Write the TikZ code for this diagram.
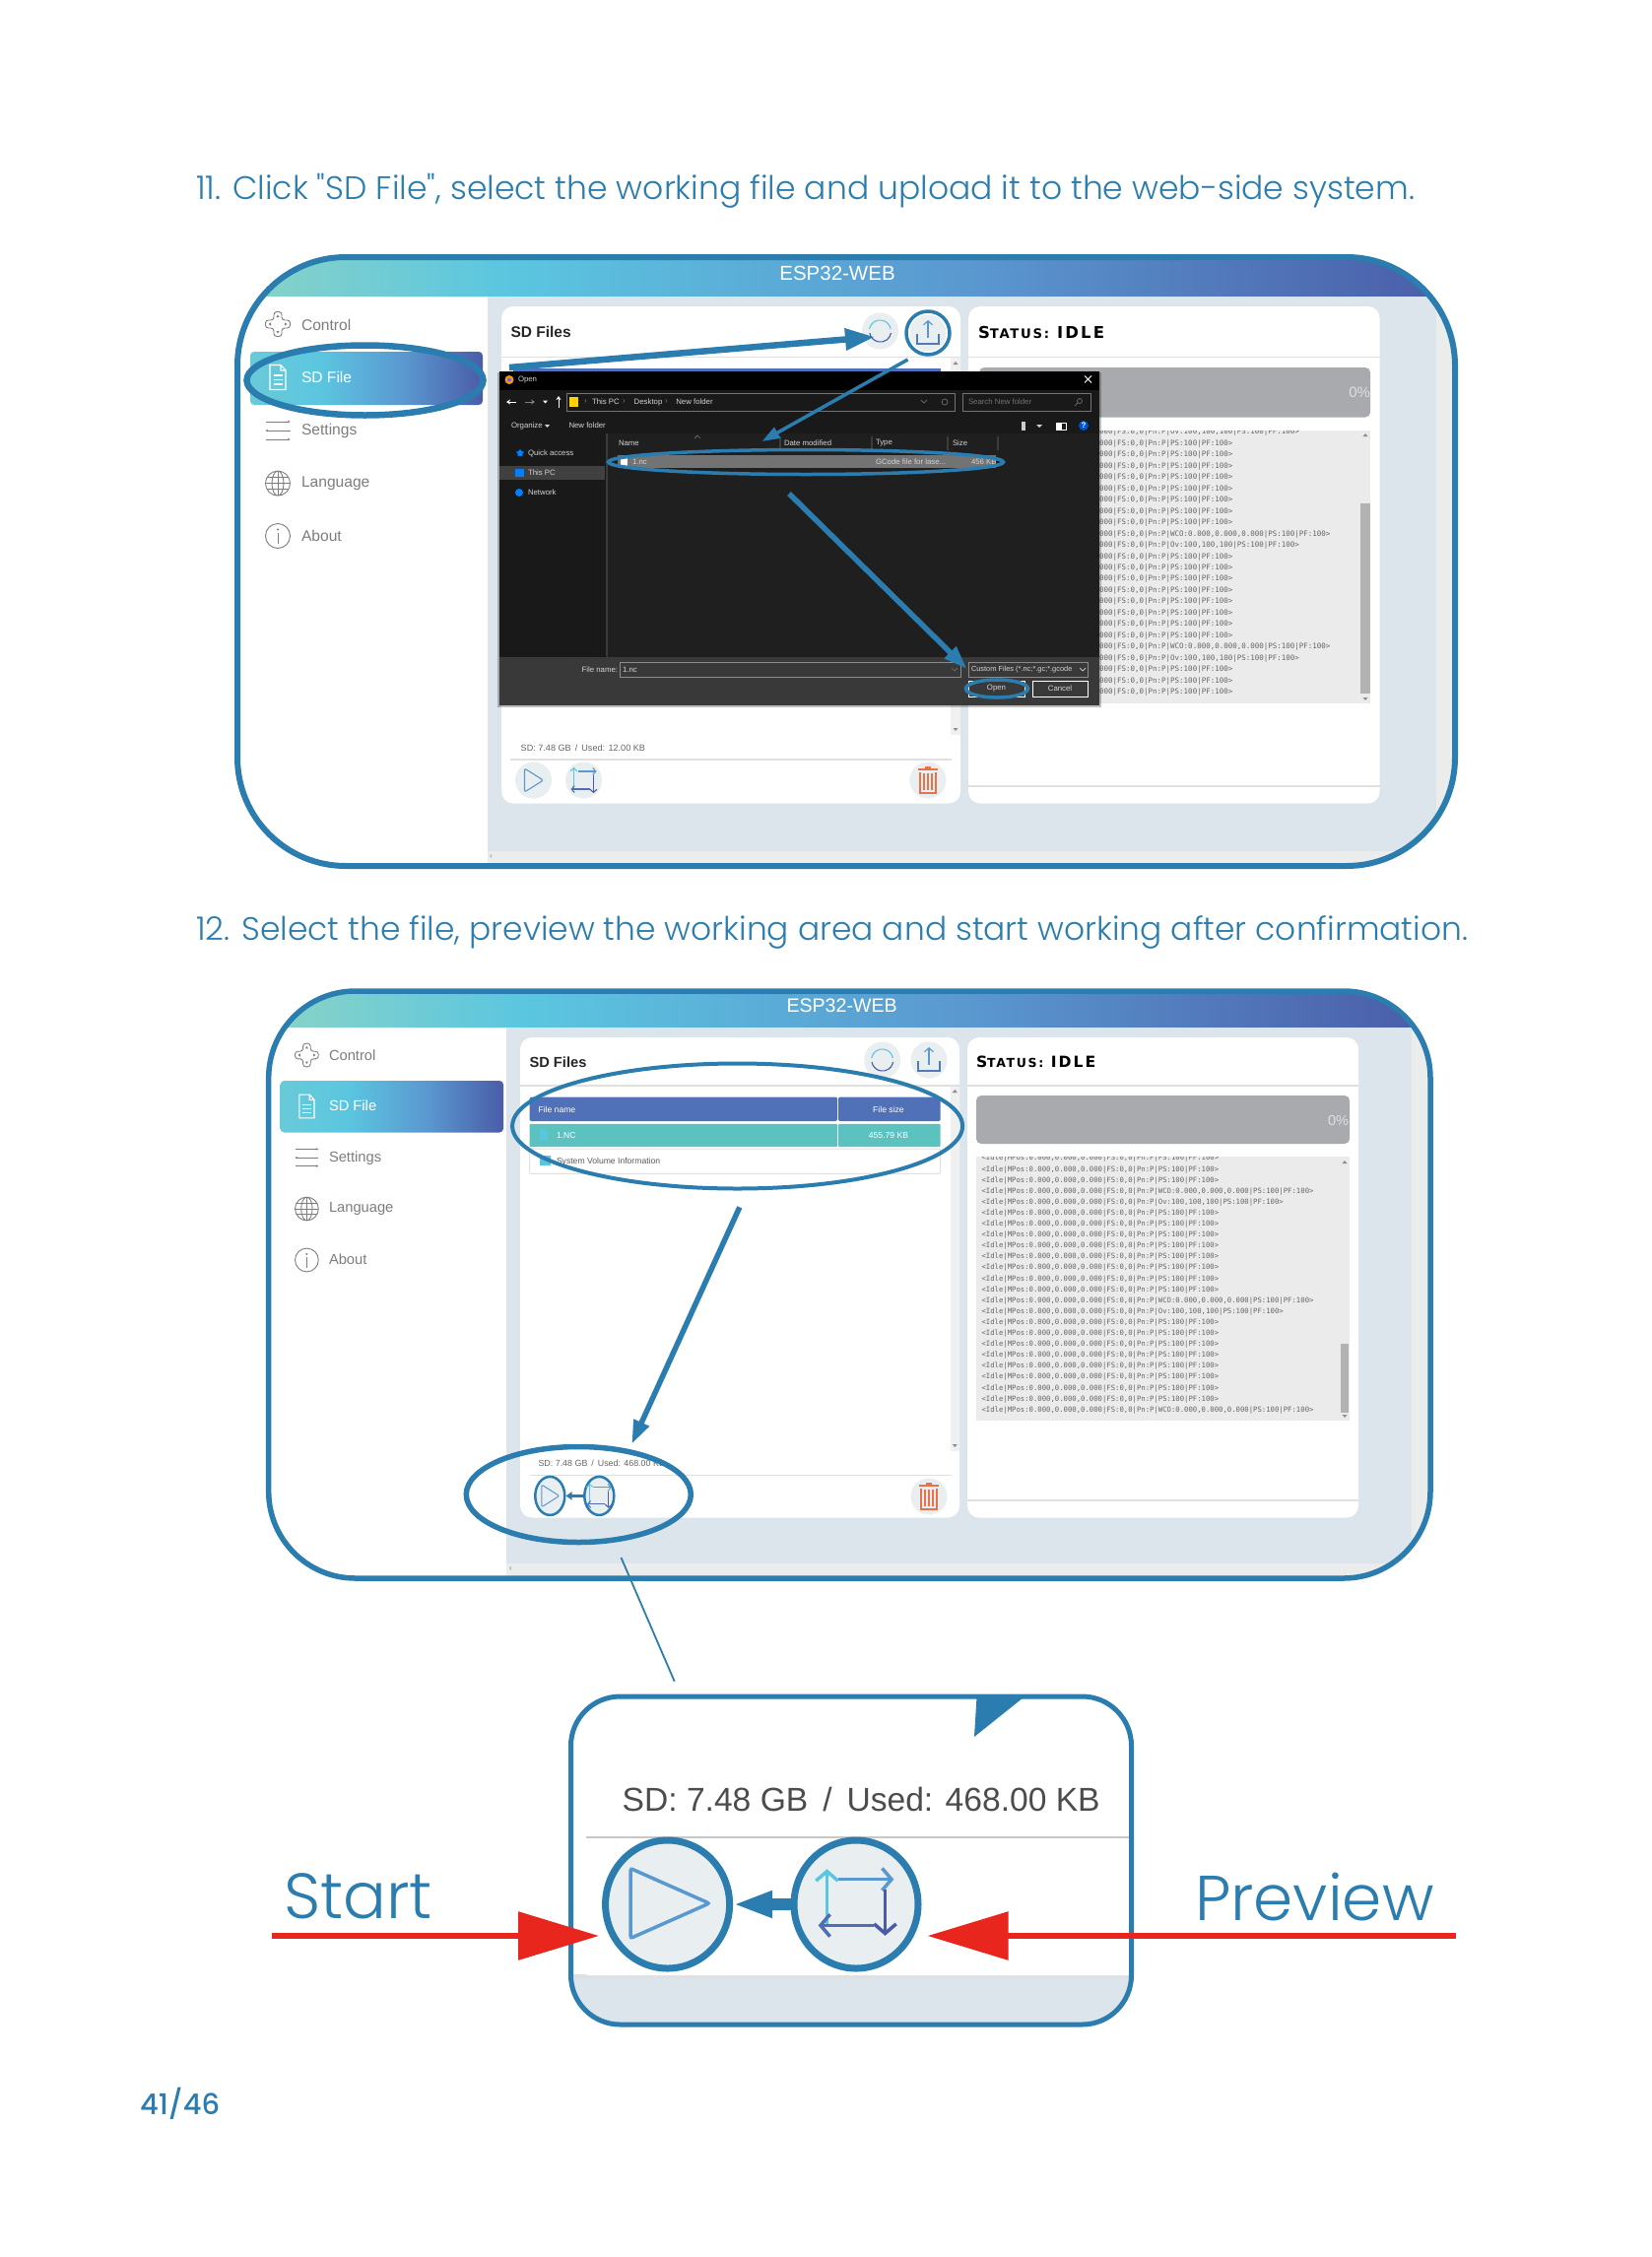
\documentclass[tikz,border=0pt]{standalone}
\usepackage{fontspec}
\setmainfont{Liberation Sans}
\newfontfamily\posterfont{Poppins}[UprightFont=* Light]
\newfontfamily\pagefont{Poppins}[UprightFont=* Medium]
\newfontfamily\logfont{DejaVu Sans Mono}
\newfontfamily\statusfont{DejaVu Sans}[LetterSpace=13]
\usetikzlibrary{positioning,arrows.meta,shapes.geometric}
\definecolor{markblue}{HTML}{2A7DAE}
\definecolor{panelgrey}{HTML}{DCE4EC}
\definecolor{stripgrey}{HTML}{EBECEC}
\definecolor{buttonfill}{HTML}{E9EEF0}
\definecolor{navgrey}{HTML}{7D7D7D}
\definecolor{tablehead}{HTML}{5070B8}
\definecolor{tablerow}{HTML}{5BC2C0}
\definecolor{logfill}{HTML}{EBEBEB}
\definecolor{barfill}{HTML}{A9AAAD}
\definecolor{trashred}{HTML}{E8734A}
\definecolor{arrowred}{HTML}{E8261E}
\definecolor{dlglist}{HTML}{1F1F1F}
\definecolor{dlgside}{HTML}{191919}
\definecolor{dlgfoot}{HTML}{393939}
\definecolor{dlgtxt}{HTML}{D4D4D4}
\definecolor{hdA}{HTML}{8AD3C6}
\definecolor{hdB}{HTML}{5BC6E0}
\definecolor{hdC}{HTML}{5A98D0}
\definecolor{hdD}{HTML}{4A5CA8}
\pgfdeclarehorizontalshading{espbar}{100bp}{color(0bp)=(hdA); color(25bp)=(hdA); color(36bp)=(hdB); color(55bp)=(hdC); color(75bp)=(hdD); color(100bp)=(hdD)}
\pgfdeclarehorizontalshading{navbar}{100bp}{color(0bp)=(hdB!70!hdA); color(25bp)=(hdB!70!hdA); color(40bp)=(hdB); color(58bp)=(hdC); color(75bp)=(hdD); color(100bp)=(hdD)}
\newcommand{\fs}[1]{\fontsize{#1}{#1}\selectfont}
\newcommand{\cropscale}{1}
\newcommand{\lineP}{<Idle|MPos:0.000,0.000,0.000|FS:0,0|Pn:P|PS:100|PF:100>}
\newcommand{\lineW}{<Idle|MPos:0.000,0.000,0.000|FS:0,0|Pn:P|WCO:0.000,0.000,0.000|PS:100|PF:100>}
\newcommand{\lineO}{<Idle|MPos:0.000,0.000,0.000|FS:0,0|Pn:P|Ov:100,100,100|PS:100|PF:100>}
\newcommand{\statustext}[2]{\statusfont\bfseries\fs{#1}S{\fs{#2}TATUS:}~IDLE}
\tikzset{
  ctrlicon/.pic={
    \draw[rounded corners=3pt] (-4,-12.5)--(4,-12.5)--(4,-4)--(12.5,-4)--(12.5,4)--(4,4)--(4,12.5)--(-4,12.5)--(-4,4)--(-12.5,4)--(-12.5,-4)--(-4,-4)--cycle;
    \foreach \a in {0,90,180,270} \fill[rotate=\a] (0,-9.5)--(1.6,-7)--(-1.6,-7)--cycle;
  },
  fileicon/.pic={
    \draw (-8,-12.5)--(3,-12.5)--(8,-7)--(8,12.5)--(-8,12.5)--cycle (3,-12.5)--(3,-7)--(8,-7);
    \draw (-4.5,-2)--(4.5,-2) (-4.5,2.5)--(4.5,2.5) (-4.5,7)--(4.5,7);
  },
  slidericon/.pic={
    \draw[-{Stealth[length=2.5pt,width=2.5pt]}] (-12.5,-9)--(12.5,-9);
    \draw[{Stealth[length=2.5pt,width=2.5pt]}-] (-12.5,0)--(12.5,0);
    \draw[-{Stealth[length=2.5pt,width=2.5pt]}] (-12.5,9)--(12.5,9);
  },
  globeicon/.pic={
    \draw (0,0) circle[radius=12.5pt] (0,0) ellipse[x radius=6pt,y radius=12.5pt];
    \draw (0,-12.5)--(0,12.5) (-12.5,0)--(12.5,0) (-11,-6)--(11,-6) (-11,6)--(11,6);
  },
  infoicon/.pic={
    \draw (0,0) circle[radius=12.5pt];
    \fill (0,-6.5) circle[radius=1.2pt];
    \draw (0,-3)--(0,8);
  },
  refreshicon/.pic={
    \draw[hdB] (-11,-2) arc[start angle=190,end angle=350,x radius=11pt,y radius=-11pt];
    \draw[hdD] (11,2) arc[start angle=10,end angle=170,x radius=11pt,y radius=-11pt];
  },
  uploadicon/.pic={
    \draw[hdD!70!hdB] (-11,1)--(-11,11)--(11,11)--(11,1);
    \draw[hdC,-{Straight Barb[length=4pt,width=9pt]}] (0,5)--(0,-13);
  },
  trashicon/.pic={
    \draw[trashred] (-10,-11)--(10,-11) (-3,-13)--(3,-13);
    \draw[trashred] (-8,-8)--(-8,13)--(8,13)--(8,-8) (-4,-7)--(-4,10) (0,-7)--(0,10) (4,-7)--(4,10);
  },
  playicon/.pic={
    \draw[hdC,rounded corners=2pt] (-9,-12)--(10,0)--(-9,12)--cycle;
  },
  cropicon/.pic={
    \draw[hdB,-{Straight Barb[length=3pt,width=7pt,scale=\cropscale]}] (-10,9)--(-10,-13);
    \draw[hdC,-{Straight Barb[length=3pt,width=7pt,scale=\cropscale]}] (-6,-9)--(13,-9);
    \draw[hdD,-{Straight Barb[length=3pt,width=7pt,scale=\cropscale]}] (10,-5)--(10,13);
    \draw[hdD!70!hdC,-{Straight Barb[length=3pt,width=7pt,scale=\cropscale]}] (6,9)--(-13,9);
  },
}
\begin{document}
\begin{tikzpicture}[x=1pt,y=-1pt,
  navicon/.style = {navgrey, line width=.9pt},
  txt/.style = {inner sep=0pt, outer sep=0pt, anchor=west},
  title/.style = {txt, text=markblue, font=\posterfont\fs{33}},
  navtext/.style = {txt, text=navgrey, font=\fs{15.6}},
  cardhead/.style = {txt, text=black!85, font=\bfseries\fs{15.5}},
  footnote/.style = {txt, text=black!60, font=\fs{9.1}},
  tabletext/.style = {txt, font=\fs{8.6}},
  logline/.style = {txt, text=black!60, font=\logfont\fs{7.48}},
  dlgtext/.style = {txt, text=dlgtxt, font=\fs{7.8}},
  card/.style = {fill=white, rounded corners=12pt},
  btn/.style = {circle, fill=buttonfill, minimum size=37pt, inner sep=0pt},
  ring/.style = {ellipse, draw=markblue, inner sep=0pt, line width=4pt},
  panelframe/.style = {draw=markblue, line width=6pt},
  flow/.style = {draw=markblue, line width=5.5pt, -{Triangle[length=24pt,width=17pt]}},
  redflow/.style = {draw=arrowred, line width=6pt, -{Triangle[length=82pt,width=48pt]}},
  scrolltip/.style = {fill=black!45},
  dlgbtn/.style = {draw=white, line width=.8pt}
  ]
  \useasboundingbox (0,0) rectangle (1677,2291);

  \node[title] (stepA) at (199,194) {11. Click "SD File", select the working file and upload it to the web-side system.};
  \node[title, font=\posterfont\fs{32.9}] (stepB) at (199,946) {12. Select the file, preview the working area and start working after confirmation.};
  \node[txt, text=markblue, font=\pagefont\fs{29}] (pagenum) at (142,2135) {41/46};

  % first panel
  \begin{scope}
    \clip[rounded corners=110pt] (241,261) rectangle (1477,879);
    \fill[panelgrey] (238,258) rectangle (1480,882);
    \fill[white] (238,300) rectangle (494.5,882);
    \fill[stripgrey] (1458,300) rectangle (1480,882);
    \fill[stripgrey] (494.5,864) rectangle (1480,882);
    \shade[shading=espbar] (238,258) rectangle (1480,300);
  \end{scope}
  \node[txt, anchor=center, text=white, font=\fs{20.5}] (espA) at (850,277) {ESP32-WEB};
  \node[txt, text=navgrey, font=\fs{8}] (leftA) at (497,869.5) {‹};

  \pic[navicon] at (282,329) {ctrlicon};
  \shade[shading=navbar, rounded corners=4pt] (254,357) rectangle (490,411);
  \pic[white, line width=1.1pt] at (282,383) {fileicon};
  \pic[navicon] at (282,437) {slidericon};
  \pic[navicon] at (282,490.6) {globeicon};
  \pic[navicon] at (282,544) {infoicon};
  \foreach \lab/\yy in {Control/329.5,Settings/437.5,Language/491,About/544}
    \node[navtext] (nav\lab A) at (306,\yy) {\lab};
  \node[navtext, text=white] (navFileA) at (306,383) {SD File};

  \fill[card] (509,311) rectangle (975,815.5);
  \fill[card] (983,311) rectangle (1400.6,815.5);
  \draw[black!12, line width=1.2pt] (509,362.5) -- (975,362.5) (983,362.5) -- (1400.6,362.5) (983,798) -- (1400.6,798) (518,771) -- (966,771);
  \fill[black!6] (965,363) rectangle (975,746);
  \fill[scrolltip] (970,367) -- (972.5,370) -- (967.5,370) -- cycle (970,742) -- (972.5,739) -- (967.5,739) -- cycle;
  \fill[tablehead] (521,373.5) rectangle (955,380);
  \node[cardhead] (filesA) at (518.5,337) {SD Files};
  \node[btn] (refreshA) at (893.5,336) {};
  \pic[line width=1.1pt] at (893.5,336) {refreshicon};
  \node[btn] (uploadA) at (942,338) {};
  \pic[line width=1.1pt] at (942,338) {uploadicon};
  \node[footnote] (usedA) at (528.7,759) {SD: 7.48 GB\, / \,Used: 12.00 KB};
  \node[btn] (playA) at (541.5,792) {};
  \pic[line width=1.1pt] at (541.5,792) {playicon};
  \node[btn] (cropA) at (592.5,792) {};
  \pic[line width=1.1pt] at (592.5,792) {cropicon};
  \node[btn] (trashA) at (942,792) {};
  \pic[line width=1.1pt] at (942,792) {trashicon};

  \node[txt, text=black, anchor=west] (statusA) at (993,337.5) {\statustext{16.5}{13.2}};
  \fill[barfill, rounded corners=5pt] (994,373) rectangle (1391,423.5);
  \node[txt, anchor=east, text=white!88!black, font=\fs{15}] (pctA) at (1391,398) {0\%};
  \fill[logfill] (994,437) rectangle (1391,714);
  \begin{scope}
    \clip (994,437) rectangle (1391,714);
    \foreach \t [count=\i from 0] in {O,P,P,P,P,P,P,P,P,W,O,P,P,P,P,P,P,P,P,W,O,P,P,P}
      \node[logline] (logA\i) at (1003.6,{439+\i*11.46}) {\csname line\t\endcsname};
  \end{scope}
  \fill[black!30] (1381,510.6) rectangle (1391,704);
  \fill[scrolltip] (1386,440) -- (1388.5,443) -- (1383.5,443) -- cycle (1386,711) -- (1388.5,708) -- (1383.5,708) -- cycle;

  % open dialog
  \fill[black, opacity=.25] (505,378) rectangle (1118,718);
  \fill[black] (507,376.5) rectangle (1115.5,715.5);
  \fill[dlgside] (507,396) rectangle (1115.5,667);
  \fill[dlglist] (616,440) rectangle (1115.5,667);
  \fill[dlgfoot] (507,667) rectangle (1115.5,715.5);
  \fill[orange!80!yellow] (517,385.5) circle[radius=4.5pt];
  \fill[blue!60] (517,385.5) circle[radius=2pt];
  \node[dlgtext] (openT) at (526,386) {Open};
  \draw[white, line width=.8pt] (1101,381.5) -- (1108,388.5) (1108,381.5) -- (1101,388.5);
  \draw[white, line width=1pt, -{Stealth[length=4pt,width=5pt]}] (524,408) -- (514,408);
  \draw[black!50, line width=1pt, -{Stealth[length=4pt,width=5pt]}] (533,408) -- (543,408);
  \draw[white, line width=1pt, -{Stealth[length=4pt,width=5pt]}] (567,414) -- (567,402);
  \fill[white] (551,406.5) -- (556,406.5) -- (553.5,409.5) -- cycle;
  \draw[black!55, line width=.7pt] (575.5,399) rectangle (969,417.7) (977.5,399) rectangle (1107,417.7);
  \fill[yellow!70!orange] (578,403) rectangle (587,413);
  \node[dlgtext] (pcT) at (601,408) {This PC};
  \node[dlgtext, right=15pt of pcT] (deskT) {Desktop};
  \node[dlgtext, right=14pt of deskT] (newT) {New folder};
  \node[dlgtext, text=black!50, font=\fs{8}] at (593,408) (sepA) {›};
  \node[dlgtext, text=black!50, font=\fs{8}] at (632,408) (sepB) {›};
  \node[dlgtext, text=black!50, font=\fs{8}] at (675,408) (sepC) {›};
  \node[dlgtext, text=black!55] (searchT) at (983,408) {Search New folder};
  \draw[black!60, line width=.8pt] (935,406) -- (938,409) -- (941,406);
  \draw[black!60, line width=.8pt] (959,408) circle[radius=3pt];
  \draw[black!60, line width=.8pt] (1096,407) circle[radius=2.5pt] (1094,409) -- (1091,412);
  \node[dlgtext] (orgT) at (519,432) {Organize};
  \fill[dlgtxt] (553,431) -- (558,431) -- (555.5,434) -- cycle;
  \node[dlgtext] (newbtnT) at (577.5,432) {New folder};
  \fill[white!80!black] (1037,428) rectangle (1041,437);
  \fill[dlgtxt] (1052,431) -- (1058,431) -- (1055,434) -- cycle;
  \draw[white, line width=.8pt] (1072,429) rectangle (1082,436);
  \fill[white] (1072,429) rectangle (1078,436);
  \node[circle, fill=blue!60!cyan!80!black, text=white, inner sep=0pt, minimum size=10pt, font=\bfseries\fs{8}] (helpT) at (1100,432) {?};
  \foreach \lab/\xx in {Name/628,Date modified/796,Type/889,Size/967}
    \node[dlgtext] at (\xx,450) {\lab};
  \draw[black!55, line width=.7pt] (792,443) -- (792,457) (885,443) -- (885,457) (962,443) -- (962,457) (1013,443) -- (1013,457) (705,445) -- (708,442) -- (711,445) (616,440) -- (616,667);
  \fill[black!55] (626.5,462) rectangle (1011,475);
  \fill[white] (630,465) rectangle (637,473);
  \node[dlgtext] (rowname) at (642,469) {1.nc};
  \node[dlgtext] (rowtype) at (889,469) {GCode file for lase...};
  \node[dlgtext] (rowsize) at (986,469) {456 KB};
  \fill[white!25!black] (507,473) rectangle (614,487);
  \node[star, star points=5, fill=blue!50!cyan, inner sep=0pt, minimum size=8pt] (starT) at (528,460) {};
  \fill[blue!50!cyan] (523,476) rectangle (532,484);
  \fill[blue!50!cyan] (527,500) circle[radius=4pt];
  \node[dlgtext] (quickT) at (536,460) {Quick access};
  \node[dlgtext] (thisT) at (536,480) {This PC};
  \node[dlgtext] (netT) at (536,500) {Network};
  \node[dlgtext] (fnameL) at (590.6,680) {File name:};
  \draw[black!45, line width=.7pt] (629,672) rectangle (975,687);
  \draw[black!55, line width=.7pt] (966,678) -- (969,681) -- (972,678);
  \node[dlgtext] (fnameT) at (632,680) {1.nc};
  \draw[black!45, line width=.7pt] (983,672) rectangle (1104,687);
  \node[dlgtext, font=\fs{7.4}] (customT) at (986,680) {Custom Files (*.nc;*.gc;*.gcode};
  \draw[dlgtxt, line width=.7pt] (1096,678) -- (1099,681) -- (1102,678);
  \node[dlgbtn, minimum width=57pt, minimum height=16pt, inner sep=0pt, draw, text=dlgtxt, font=\fs{7.8}] (openB) at (1011.5,699) {Open};
  \node[dlgbtn, minimum width=56pt, minimum height=16pt, inner sep=0pt, draw, text=dlgtxt, font=\fs{7.8}] (cancelB) at (1076,699) {Cancel};

  % marks on the first panel
  \node[ring, line width=6.5pt, minimum width=240pt, minimum height=71pt] (ringFile) at (370.5,386) {};
  \node[ring, minimum width=44pt, minimum height=44pt, line width=3.5pt] (ringUp) at (942,338) {};
  \node[ring, minimum width=401pt, minimum height=25pt, line width=3.5pt] (ringRow) at (818,469) {};
  \node[ring, minimum width=63pt, minimum height=18pt, line width=3.5pt] (ringOpen) at (1012,699) {};
  \coordinate (tailA) at (517,373);
  \coordinate (headA) at (888,342);
  \coordinate (tailB) at (921.5,365);
  \coordinate (headB) at (773.5,448);
  \coordinate (tailC) at (801,501);
  \coordinate (headC) at (981.6,679);
  \draw[flow, line width=6.5pt, -{Triangle[length=30pt,width=21pt]}] (tailA) -- (headA);
  \draw[flow, line width=3.5pt, -{Triangle[length=18pt,width=12pt]}] (tailB) -- (headB);
  \draw[flow, -{Triangle[length=24pt,width=16pt]}] (tailC) -- (headC);
  \draw[panelframe] [rounded corners=110pt] (241,261) rectangle (1477,879);

  % second panel
  \begin{scope}
    \clip[rounded corners=88pt] (272.7,1006) rectangle (1452,1602);
    \fill[panelgrey] (270,1000) rectangle (1455,1605);
    \fill[white] (270,1042) rectangle (514,1605);
    \fill[stripgrey] (1432.6,1042) rectangle (1455,1605);
    \fill[stripgrey] (514,1587) rectangle (1455,1605);
    \shade[shading=espbar] (270,1000) rectangle (1455,1042);
  \end{scope}
  \node[txt, anchor=center, text=white, font=\fs{19.6}] (espB) at (854.6,1020.5) {ESP32-WEB};
  \node[txt, text=navgrey, font=\fs{8}] (leftB) at (517,1593) {‹};

  \pic[navicon, scale=.95] at (311.4,1071) {ctrlicon};
  \shade[shading=navbar, rounded corners=4pt] (284.5,1097) rectangle (511,1149.5);
  \pic[white, line width=1.1pt, scale=.95] at (311.4,1123) {fileicon};
  \pic[navicon, scale=.95] at (311.4,1175) {slidericon};
  \pic[navicon, scale=.95] at (311.4,1227) {globeicon};
  \pic[navicon, scale=.95] at (311.4,1279) {infoicon};
  \foreach \lab/\yy in {Control/1071,Settings/1176,Language/1227,About/1278}
    \node[navtext, font=\fs{14.7}] (nav\lab B) at (334,\yy) {\lab};
  \node[navtext, font=\fs{14.7}, text=white] (navFileB) at (334,1122) {SD File};

  \fill[card] (528,1053) rectangle (974,1540.5);
  \fill[card] (982,1053) rectangle (1379,1540.5);
  \draw[black!12, line width=1.2pt] (528,1102) -- (974,1102) (982,1102) -- (1379,1102) (982,1523) -- (1379,1523) (538,1497.4) -- (965.5,1497.4);
  \fill[black!6] (964.6,1102.5) rectangle (974,1472.5);
  \fill[scrolltip] (969.3,1106) -- (971.8,1109) -- (966.8,1109) -- cycle (969.3,1469) -- (971.8,1466) -- (966.8,1466) -- cycle;
  \node[cardhead, font=\bfseries\fs{14.7}] (filesB) at (537.5,1078) {SD Files};
  \node[btn] (refreshB) at (895.7,1076) {};
  \pic[line width=1.1pt] at (895.7,1076) {refreshicon};
  \node[btn] (uploadB) at (943,1076) {};
  \pic[line width=1.1pt] at (943,1076) {uploadicon};

  \fill[tablehead, rounded corners=2pt] (537.5,1113.5) rectangle (850,1138);
  \fill[tablehead, rounded corners=2pt] (851,1113.5) rectangle (954.7,1138);
  \fill[tablerow, rounded corners=1pt] (537.5,1140.8) rectangle (850,1164);
  \fill[tablerow, rounded corners=1pt] (851,1140.8) rectangle (954.7,1164);
  \draw[black!12, line width=1pt, rounded corners=2pt] (537.5,1166) rectangle (954.7,1191.4);
  \node[tabletext, text=white] (nameH) at (546.5,1126) {File name};
  \node[tabletext, text=white, anchor=center] (sizeH) at (902,1126) {File size};
  \fill[hdB] (548,1146) -- (553,1146) -- (556,1149) -- (556,1158) -- (548,1158) -- cycle;
  \node[tabletext, text=white] (nameR) at (565,1153) {1.NC};
  \node[tabletext, text=white, anchor=center] (sizeR) at (902,1153) {455.79 KB};
  \fill[hdB] (548,1173) rectangle (559,1183);
  \node[tabletext, text=black!65] (nameS) at (565,1179.5) {System Volume Information};

  \node[footnote, font=\fs{8.9}] (usedB) at (546.5,1485.6) {SD: 7.48 GB\, / \,Used: 468.00 KB};
  \node[ring, line width=2.5pt, fill=buttonfill, minimum width=30pt, minimum height=39pt] (playB) at (558.3,1518.4) {};
  \pic[line width=1pt, scale=.95] at (558.3,1518.4) {playicon};
  \node[ring, line width=2.5pt, fill=buttonfill, minimum width=30pt, minimum height=39pt] (cropB) at (608.3,1518.4) {};
  \pic[line width=1pt, scale=.95] at (608.3,1518.4) {cropicon};
  \draw[markblue, line width=3pt, -{Triangle[length=6pt,width=8pt]}] (cropB) -- (playB);
  \node[btn] (trashB) at (943,1519) {};
  \pic[line width=1.1pt] at (943,1519) {trashicon};

  \node[txt, text=black] (statusB) at (991,1078) {\statustext{15.6}{12.5}};
  \fill[barfill, rounded corners=5pt] (991,1112) rectangle (1370,1161);
  \node[txt, anchor=east, text=white!88!black, font=\fs{14.5}] (pctB) at (1369,1137) {0\%};
  \fill[logfill] (991,1174) rectangle (1370,1442);
  \begin{scope}
    \clip (991,1174) rectangle (1370,1442);
    \foreach \t [count=\i from 0] in {P,P,P,W,O,P,P,P,P,P,P,P,P,W,O,P,P,P,P,P,P,P,P,W}
      \node[logline, font=\logfont\fs{7.27}] (logB\i) at (996.5,{1176+\i*11.1}) {\csname line\t\endcsname};
  \end{scope}
  \fill[black!30] (1361,1364) rectangle (1369,1434);
  \fill[scrolltip] (1365,1178) -- (1367.5,1181) -- (1362.5,1181) -- cycle (1365,1439) -- (1367.5,1436) -- (1362.5,1436) -- cycle;

  % marks on the second panel
  \node[ring, minimum width=457pt, minimum height=127pt] (ringTable) at (748.6,1143) {};
  \node[ring, line width=5.5pt, minimum width=228pt, minimum height=97pt] (ringButtons) at (587.3,1517) {};
  \coordinate (tailD) at (750.8,1225.4);
  \coordinate (headD) at (641.3,1465.8);
  \draw[flow, -{Triangle[length=24pt,width=16pt]}] (tailD) -- (headD);
  \draw[panelframe, line width=5.5pt] [rounded corners=88pt] (272.7,1006) rectangle (1452,1602);

  % close-up
  \coordinate (zoomA) at (630.5,1581);
  \coordinate (zoomB) at (684.7,1706.7);
  \draw[markblue, line width=1.8pt] (zoomA) -- (zoomB);
  \begin{scope}
    \clip[rounded corners=50pt] (579.5,1722) rectangle (1148.5,2055);
    \fill[white] (575,1715) rectangle (1155,2060);
    \fill[panelgrey] (575,2006) rectangle (1155,2060);
    \fill[black!12] (575,2004) rectangle (1155,2008);
    \fill[white, rounded corners=8pt] (590,1990) rectangle (1170,2005);
  \end{scope}
  \fill[markblue] (991.5,1723) -- (1039,1723) -- (989,1763) -- cycle;
  \node[txt, text=black!70, font=\fs{33.6}] (usedC) at (631.7,1826) {SD: 7.48 GB\, / \,Used: 468.00 KB};
  \draw[black!22, line width=2pt] (594.5,1864.7) -- (1147,1864.7);
  \node[ring, line width=7pt, fill=buttonfill, minimum width=126pt, minimum height=130pt] (playC) at (677.6,1933) {};
  \pic[line width=3.5pt, xscale=4.2, yscale=2.95] at (678,1932) {playicon};
  \node[ring, line width=7pt, fill=buttonfill, minimum width=126pt, minimum height=130pt] (cropC) at (869,1933) {};
  \begin{scope}
    \renewcommand{\cropscale}{3.2}
    \pic[line width=3.5pt, xscale=2.95, yscale=2.6] at (869,1931) {cropicon};
  \end{scope}
  \draw[markblue, line width=12pt, -{Triangle[length=40pt,width=25pt]}] (cropC) -- (playC);
  \draw[panelframe, line width=5pt] [rounded corners=50pt] (579.5,1722) rectangle (1148.5,2055);

  \node[txt, text=markblue, font=\posterfont\fs{65}] (startT) at (288,1925) {Start};
  \node[txt, text=markblue, font=\posterfont\fs{64.5}] (previewT) at (1213,1925) {Preview};
  \coordinate (startEnd) at (276,1965);
  \coordinate (previewEnd) at (1478,1965);
  \coordinate (startTip) at (608,1965);
  \coordinate (previewTip) at (941.7,1965);
  \draw[redflow] (startEnd) -- (startTip);
  \draw[redflow] (previewEnd) -- (previewTip);
\end{tikzpicture}
\end{document}
